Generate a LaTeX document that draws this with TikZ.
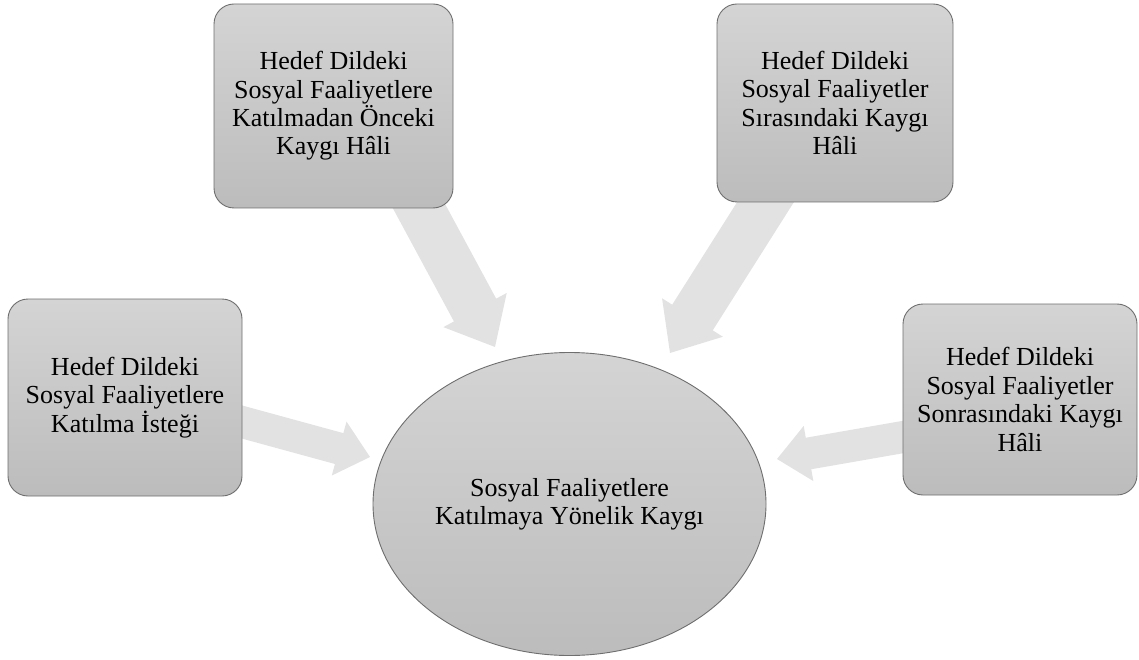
\documentclass[tikz,border=0pt]{standalone}
\usepackage{fontspec}
\setmainfont{Liberation Serif}
\usetikzlibrary{calc,shapes.geometric}
\definecolor{topg}{HTML}{D4D4D4}
\definecolor{botg}{HTML}{BCBCBC}
\definecolor{edgeg}{HTML}{6E6E6E}
\definecolor{arrowg}{HTML}{E2E2E2}
\tikzset{
  box/.style={draw=edgeg, line width=0.9pt, rounded corners=20pt, top color=topg, bottom color=botg,
    align=center, font=\fontsize{26pt}{28.4pt}\selectfont, inner sep=0pt},
  hub/.style={ellipse, draw=edgeg, line width=0.9pt, top color=topg, bottom color=botg,
    align=center, font=\fontsize{26pt}{28.4pt}\selectfont, inner sep=0pt,
    minimum width=393pt, minimum height=303pt},
  arrowfill/.style={fill=arrowg}
}
% #1 start, #2 tip, #3 shaft half width, #4 head half width, #5 head length
\newcommand{\bigarrow}[5]{%
  \path ($(#2)!#5!(#1)$) coordinate (hb);
  \fill[arrowfill] ($(#1)!#3!90:(#2)$) -- ($(hb)!#3!90:(#2)$) -- ($(hb)!#4!90:(#2)$) -- (#2)
    -- ($(hb)!#4!-90:(#2)$) -- ($(hb)!#3!-90:(#2)$) -- ($(#1)!#3!-90:(#2)$) -- cycle;
}
\begin{document}
\begin{tikzpicture}[x=1pt,y=-1pt]
\useasboundingbox (0,0) rectangle (1139,660);
% arrow end points
\coordinate (s1) at (400,171);
\coordinate (t1) at (495,347);
\coordinate (s2) at (789,165);
\coordinate (t2) at (670,353);
\coordinate (s3) at (220,416);
\coordinate (t3) at (370,457);
\coordinate (s4) at (926,433);
\coordinate (t4) at (777,459);
\bigarrow{s1}{t1}{24pt}{36pt}{42pt}
\bigarrow{s2}{t2}{24pt}{36pt}{42pt}
\bigarrow{s3}{t3}{16pt}{28pt}{32pt}
\bigarrow{s4}{t4}{16pt}{28pt}{32pt}
% nodes
\node[box, minimum width=239pt, minimum height=204pt] (tl) at (333.5,106) {Hedef Dildeki\\Sosyal Faaliyetlere\\Katılmadan Önceki\\Kaygı Hâli};
\node[box, minimum width=236pt, minimum height=198pt] (tr) at (835,103) {Hedef Dildeki\\Sosyal Faaliyetler\\Sırasındaki Kaygı\\Hâli};
\node[box, minimum width=234pt, minimum height=197pt] (l) at (125,397.5) {Hedef Dildeki\\Sosyal Faaliyetlere\\Katılma İsteği};
\node[box, minimum width=234pt, minimum height=191pt] (r) at (1020,399.5) {Hedef Dildeki\\Sosyal Faaliyetler\\Sonrasındaki Kaygı\\Hâli};
\node[hub] (c) at (569.5,504) {Sosyal Faaliyetlere\\Katılmaya Yönelik Kaygı};
\end{tikzpicture}
\end{document}
